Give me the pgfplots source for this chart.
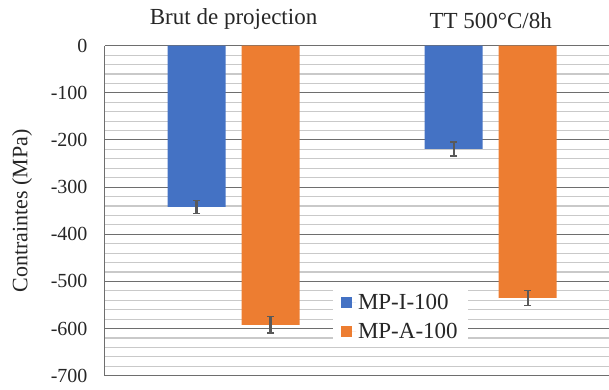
\documentclass[border=0pt]{standalone}
\usepackage{fontspec}
\setmainfont{Liberation Serif}
\usepackage{pgfplots}
\pgfplotsset{compat=1.18}
\definecolor{xlblue}{HTML}{4472C4}
\definecolor{xlorange}{HTML}{ED7D31}
\definecolor{majgrid}{HTML}{6E6E6E}
\definecolor{mingrid}{HTML}{C9C9C9}
\definecolor{errgray}{HTML}{595959}

\begin{document}
\begin{tikzpicture}
    \begin{axis}[
        scale only axis,
        width=504pt, height=330pt,
        xmin=0.5, xmax=2.46,
        ymin=-700, ymax=0,
        ybar,
        axis x line*=top,
        axis y line*=left,
        axis line style={majgrid, line width=1pt, -},
        xtick={1,2},
        xticklabels={Brut de projection, TT 500°C/8h},
        x tick style={draw=none},
        extra x ticks={1.5},
        extra x tick labels={},
        extra x tick style={tick style={draw=majgrid, line width=0.8pt}, major tick length=6pt, tick align=inside},
        xticklabel style={yshift=9pt, font=\fontsize{23}{26}\selectfont},
        ytick={-700,-600,...,0},
        yticklabels={-700,-600,-500,-400,-300,-200,-100,0},
        minor y tick num=4,
        y tick style={draw=none},
        ymajorgrids=true, yminorgrids=true,
        major grid style={majgrid, line width=1pt},
        minor grid style={mingrid, line width=1.2pt},
        yticklabel style={xshift=-14pt, font=\fontsize{20}{23}\selectfont},
        ylabel={Contraintes (MPa)},
        ylabel style={yshift=12pt, font=\fontsize{22}{25}\selectfont},
        tick label style={text=black!85},
        label style={text=black!85},
        bar width=58pt,
        legend style={at={(0.452,0.262)}, anchor=north west, draw=none, fill=white,
            font=\fontsize{23}{26}\selectfont, text=black!85,
            row sep=8pt, inner xsep=8pt, inner ysep=3pt},
        legend image code/.code={\path (0pt,0pt) -- (15pt,0pt); \fill[#1] (0pt,-5.5pt) rectangle (11pt,5.5pt);},
        legend cell align=left,
    ]
    \addplot[bar shift=-37pt, fill=xlblue, draw=none,
        error bars/.cd, y dir=both, y explicit,
        error bar style={errgray, line width=2.4pt},
        error mark options={errgray, line width=1.6pt, mark size=3.5pt, rotate=90}]
    coordinates {
        (1,-342) +- (0,14)
        (2,-219) +- (0,15)
    };
    \addlegendentry{MP-I-100}
    \addplot[bar shift=37pt, fill=xlorange, draw=none,
        error bars/.cd, y dir=both, y explicit,
        error bar style={errgray, line width=2.4pt},
        error mark options={errgray, line width=1.6pt, mark size=3.5pt, rotate=90}]
    coordinates {
        (1,-592) +- (0,18)
        (2,-535) +- (0,16)
    };
    \addlegendentry{MP-A-100}
    \coordinate (bl) at (rel axis cs:0,0);
    \end{axis}
    \pgfresetboundingbox
    \useasboundingbox ([shift={(-105pt,-13.3pt)}]bl) rectangle ++(609pt,389pt);
\end{tikzpicture}
\end{document}
